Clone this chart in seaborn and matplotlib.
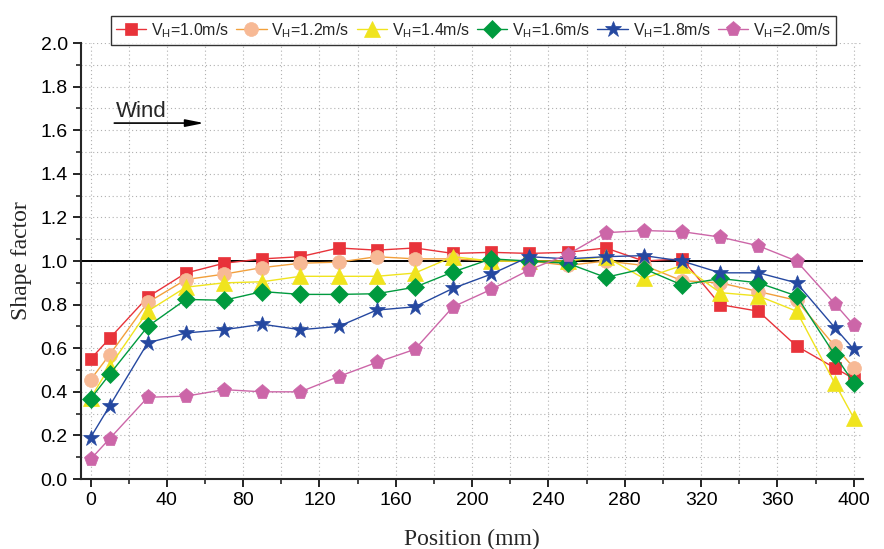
import numpy as np
import pandas as pd
import seaborn as sns
import matplotlib.pyplot as plt
from matplotlib.ticker import MultipleLocator

# positions along the model (mm)
positions = [0, 10, 30, 50, 70, 90, 110, 130, 150, 170, 190, 210, 230, 250, 270, 290, 310, 330, 350, 370, 390, 400]

# shape factor for each wind speed
v10 = [0.55, 0.645, 0.835, 0.945, 0.99, 1.01, 1.02, 1.06, 1.05, 1.06, 1.035, 1.04, 1.035, 1.04, 1.06, 1.00, 1.01, 0.80, 0.77, 0.61, 0.51, 0.46]
v12 = [0.455, 0.57, 0.81, 0.915, 0.94, 0.97, 0.99, 0.995, 1.02, 1.01, 1.01, 1.00, 1.00, 0.98, 1.00, 0.98, 0.91, 0.90, 0.86, 0.82, 0.61, 0.51]
v14 = [0.37, 0.515, 0.77, 0.88, 0.90, 0.905, 0.93, 0.93, 0.93, 0.945, 1.02, 1.00, 1.00, 1.00, 1.02, 0.92, 0.98, 0.855, 0.84, 0.77, 0.44, 0.28]
v16 = [0.367, 0.48, 0.70, 0.824, 0.82, 0.86, 0.847, 0.847, 0.85, 0.88, 0.95, 1.01, 1.00, 0.99, 0.925, 0.965, 0.89, 0.92, 0.90, 0.84, 0.57, 0.44]
v18 = [0.19, 0.335, 0.625, 0.67, 0.685, 0.71, 0.685, 0.70, 0.775, 0.79, 0.875, 0.94, 1.02, 1.01, 1.02, 1.025, 1.00, 0.946, 0.946, 0.90, 0.695, 0.595]
v20 = [0.09, 0.185, 0.375, 0.38, 0.41, 0.40, 0.40, 0.47, 0.535, 0.595, 0.79, 0.87, 0.96, 1.03, 1.13, 1.14, 1.135, 1.11, 1.07, 1.00, 0.805, 0.705]

labels = ["1.0", "1.2", "1.4", "1.6", "1.8", "2.0"]
series = [v10, v12, v14, v16, v18, v20]

line_colors = ["#e8333a", "#f2a03c", "#f0e41e", "#009a3e", "#2548a0", "#cc66a8"]
marker_colors = ["#e8333a", "#f7b995", "#f0e41e", "#009a3e", "#2548a0", "#cc66a8"]
markers = ["s", "o", "^", "D", "*", "p"]
msizes = [9, 10, 11, 9, 12, 11]

sns.set_style("ticks")
plt.rcParams['font.family'] = ['Liberation Sans', 'DejaVu Sans']

fig = plt.figure(figsize=(8.84, 5.49), dpi=100)
ax = fig.add_axes([0.0916, 0.1275, 0.885, 0.794])

for i in range(len(series)):
    sns.lineplot(x=positions, y=series[i], ax=ax, color=line_colors[i], lw=1,
                 marker=markers[i], markersize=msizes[i],
                 markerfacecolor=marker_colors[i], markeredgecolor=marker_colors[i],
                 markeredgewidth=0.5, label="V$_\\mathregular{H}$=" + labels[i] + "m/s",
                 legend=False, zorder=3 + i)

ax.axhline(1.0, color="black", lw=1.4, zorder=2)

ax.set_xlim(-5, 405)
ax.set_ylim(0, 2.0)
ax.xaxis.set_major_locator(MultipleLocator(40))
ax.xaxis.set_minor_locator(MultipleLocator(20))
ax.yaxis.set_major_locator(MultipleLocator(0.2))
ax.yaxis.set_minor_locator(MultipleLocator(0.1))
ax.yaxis.set_major_formatter(plt.FormatStrFormatter('%.1f'))
ax.grid(which="both", color="#b0b0b0", ls=(0, (1, 2.5)), lw=0.8, zorder=0)
ax.tick_params(which="major", direction="out", length=6, width=1.2, labelsize=14, colors="black")
ax.tick_params(which="minor", direction="out", length=3.5, width=1.2)
sns.despine(ax=ax, top=True, right=True)
ax.spines['left'].set_linewidth(1.5)
ax.spines['bottom'].set_linewidth(1.5)

ax.set_xlabel("Position (mm)", family="Liberation Serif", fontsize=17, labelpad=14)
ax.set_ylabel("Shape factor", family="Liberation Serif", fontsize=17, labelpad=6)

# wind direction arrow
ax.annotate("", xy=(61, 1.633), xytext=(11, 1.633),
            arrowprops=dict(arrowstyle="-|>,head_length=1.1,head_width=0.22", color="black", lw=1.2))
ax.text(13.5, 1.64, "Wind", fontsize=16, ha="left", va="bottom")

leg = fig.legend(loc="upper center", bbox_to_anchor=(0.5356, 0.985), ncol=6, fontsize=11.5,
                 frameon=True, fancybox=False, edgecolor="black", handlelength=1.9,
                 handletextpad=0.3, columnspacing=0.45, borderpad=0.3)
leg.get_frame().set_linewidth(1.0)

fig.savefig("out.png", dpi=100)
